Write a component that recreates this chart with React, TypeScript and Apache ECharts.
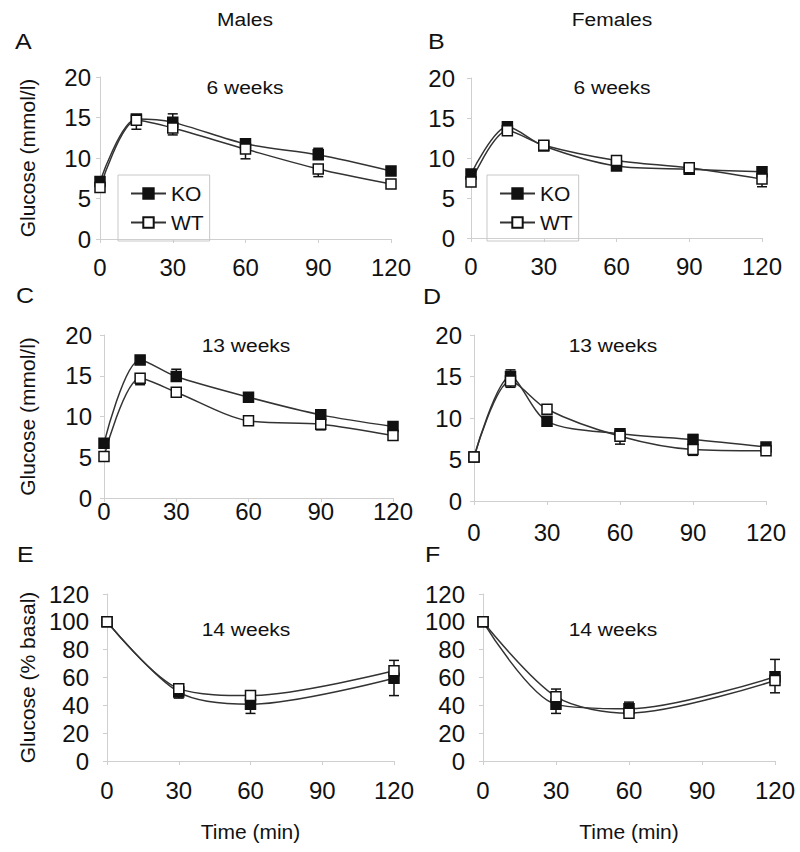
import React, { useEffect, useRef } from "react";
import * as echarts from "echarts";

const TIME_6 = [0, 15, 30, 60, 90, 120];
const TIME_4 = [0, 30, 60, 120];
const X_TICKS = [0, 30, 60, 90, 120];

// Panel A - Males 6 weeks (mmol/l)
const A_KO = [7.1, 14.8, 14.4, 11.75, 10.4, 8.4];
const A_KO_ERR = [0.3, 0.5, 1.05, 0.55, 0.8, 0.35];
const A_WT = [6.35, 14.65, 13.7, 11.1, 8.65, 6.8];
const A_WT_ERR = [-0.4, -1.1, -0.85, -1.2, -0.95, -0.3];
// Panel B - Females 6 weeks
const B_KO = [8.0, 13.9, 11.5, 9.0, 8.6, 8.27];
const B_KO_ERR = [0.3, 0.5, 0.5, 0.3, 0.3, 0.35];
const B_WT = [7.0, 13.4, 11.6, 9.7, 8.77, 7.36];
const B_WT_ERR = [-0.3, -0.5, -0.4, -0.3, -0.3, -0.95];
// Panel C - Males 13 weeks
const C_KO = [6.73, 16.94, 14.9, 12.37, 10.2, 8.78];
const C_KO_ERR = [0.4, 0.4, 0.9, 0.5, 0.5, 0.4];
const C_WT = [5.1, 14.7, 12.98, 9.47, 9.06, 7.67];
const C_WT_ERR = [-0.3, -0.8, -0.3, -0.3, -0.7, -0.3];
// Panel D - Females 13 weeks
const D_KO = [5.3, 15.0, 9.6, 8.1, 7.4, 6.5];
const D_KO_ERR = [0.2, 0.8, -0.3, 0.5, 0.6, 0.3];
const D_WT = [5.3, 14.45, 11.05, 7.8, 6.2, 6.05];
const D_WT_ERR = [-0.2, -0.75, 0.3, -0.95, -0.7, -0.35];
// Panel E - Males 14 weeks (% basal)
const E_KO = [100, 49.5, 40.8, 59.5];
const E_KO_ERR = [0, -4.3, -6.6, -12.5];
const E_WT = [100, 52, 47, 64.8];
const E_WT_ERR = [0, 1.5, 3.5, 7.5];
// Panel F - Females 14 weeks (% basal)
const F_KO = [100, 40.7, 37.5, 60.5];
const F_KO_ERR = [0, -6.5, 4.8, 12.5];
const F_WT = [100, 46.2, 34.4, 57.8];
const F_WT_ERR = [0, 5.5, -2, -8.8];

const SERIES_NAMES = ["KO", "WT"];
const COLUMN_TITLES = ["Males", "Females"];
const PANEL_LETTERS = ["A", "B", "C", "D", "E", "F"];
const PANEL_SUBTITLES = ["6 weeks", "6 weeks", "13 weeks", "13 weeks", "14 weeks", "14 weeks"];
const Y_NAME_MMOL = "Glucose (mmol/l)";
const Y_NAME_BASAL = "Glucose (% basal)";
const X_NAME = "Time (min)";

const FONT = "'Liberation Sans', Arial, Helvetica, sans-serif";

type Panel = {
  time: number[];
  ko: number[];
  koErr: number[];
  wt: number[];
  wtErr: number[];
  yMax: number;
  yInterval: number;
  grid: { left: number; top: number; width: number; height: number };
  yName: string;
  xName: string;
  yLabelMargin: number;
  xLabelMargin: number;
  yNameGap: number;
};

const PANELS: Panel[] = [
  { time: TIME_6, ko: A_KO, koErr: A_KO_ERR, wt: A_WT, wtErr: A_WT_ERR, yMax: 20, yInterval: 5,
    grid: { left: 100, top: 77, width: 291, height: 162 }, yName: Y_NAME_MMOL, xName: "",
    yLabelMargin: 9, xLabelMargin: 16, yNameGap: 62 },
  { time: TIME_6, ko: B_KO, koErr: B_KO_ERR, wt: B_WT, wtErr: B_WT_ERR, yMax: 20, yInterval: 5,
    grid: { left: 471, top: 78, width: 291, height: 160 }, yName: "", xName: "",
    yLabelMargin: 16, xLabelMargin: 16, yNameGap: 60 },
  { time: TIME_6, ko: C_KO, koErr: C_KO_ERR, wt: C_WT, wtErr: C_WT_ERR, yMax: 20, yInterval: 5,
    grid: { left: 104, top: 335, width: 289, height: 163 }, yName: Y_NAME_MMOL, xName: "",
    yLabelMargin: 12, xLabelMargin: 1, yNameGap: 66 },
  { time: TIME_6, ko: D_KO, koErr: D_KO_ERR, wt: D_WT, wtErr: D_WT_ERR, yMax: 20, yInterval: 5,
    grid: { left: 474, top: 335, width: 292, height: 166 }, yName: "", xName: "",
    yLabelMargin: 12, xLabelMargin: 19, yNameGap: 60 },
  { time: TIME_4, ko: E_KO, koErr: E_KO_ERR, wt: E_WT, wtErr: E_WT_ERR, yMax: 120, yInterval: 20,
    grid: { left: 107, top: 594, width: 287, height: 167 }, yName: Y_NAME_BASAL, xName: X_NAME,
    yLabelMargin: 18, xLabelMargin: 17, yNameGap: 69 },
  { time: TIME_4, ko: F_KO, koErr: F_KO_ERR, wt: F_WT, wtErr: F_WT_ERR, yMax: 120, yInterval: 20,
    grid: { left: 483, top: 594, width: 292, height: 167 }, yName: "", xName: X_NAME,
    yLabelMargin: 18, xLabelMargin: 17, yNameGap: 60 },
];

const LETTER_POS = [[15, 42], [428, 42], [16, 296], [423, 297], [17, 555], [425, 555]];
const SUBTITLE_POS = [[245, 88], [612, 88], [246, 346], [613, 346], [246, 630], [613, 630]];
const COLUMN_TITLE_POS = [[245, 20], [612, 20]];

function buildOption() {
  const axisColor = "#cfcfcf";
  const grid: any[] = [];
  const xAxis: any[] = [];
  const yAxis: any[] = [];
  const series: any[] = [];

  PANELS.forEach((p, i) => {
    grid.push({ ...p.grid, containLabel: false });
    xAxis.push({
      type: "value",
      gridIndex: i,
      min: 0,
      max: 120,
      interval: 30,
      axisLine: { show: true, onZero: false, lineStyle: { color: axisColor, width: 1 } },
      axisTick: { show: true, length: 4, lineStyle: { color: axisColor } },
      splitLine: { show: false },
      axisLabel: {
        color: "#111",
        fontSize: 24,
        fontFamily: FONT,
        margin: p.xLabelMargin,
        customValues: X_TICKS,
      },
      name: p.xName,
      nameLocation: "middle",
      nameGap: 60,
      nameTextStyle: { color: "#111", fontSize: 21, fontFamily: FONT },
    });
    yAxis.push({
      type: "value",
      gridIndex: i,
      min: 0,
      max: p.yMax,
      interval: p.yInterval,
      axisLine: { show: true, lineStyle: { color: axisColor, width: 1 } },
      axisTick: { show: true, length: 4, lineStyle: { color: axisColor } },
      splitLine: { show: false },
      axisLabel: { color: "#111", fontSize: 24, fontFamily: FONT, margin: p.yLabelMargin },
      name: p.yName,
      nameLocation: "middle",
      nameGap: p.yNameGap,
      nameTextStyle: { color: "#111", fontSize: 21, fontFamily: FONT },
    });

    const groups = [
      { name: SERIES_NAMES[0], vals: p.ko, errs: p.koErr, fill: "#111111" },
      { name: SERIES_NAMES[1], vals: p.wt, errs: p.wtErr, fill: "#ffffff" },
    ];
    groups.forEach((g) => {
      series.push({
        type: "custom",
        xAxisIndex: i,
        yAxisIndex: i,
        z: 1,
        silent: true,
        data: p.time.map((t, k) => [t, g.vals[k], g.errs[k]]),
        encode: { x: 0, y: 1 },
        renderItem: (params: any, api: any) => {
          const x = api.value(0);
          const y = api.value(1);
          const e = api.value(2);
          if (!e) return null;
          const p0 = api.coord([x, y]);
          const p1 = api.coord([x, y + e]);
          const style = { stroke: "#111", lineWidth: 1.5 };
          return {
            type: "group",
            children: [
              { type: "line", shape: { x1: p0[0], y1: p0[1], x2: p1[0], y2: p1[1] }, style },
              { type: "line", shape: { x1: p1[0] - 5, y1: p1[1], x2: p1[0] + 5, y2: p1[1] }, style },
            ],
          };
        },
      });
    });
    groups.forEach((g) => {
      series.push({
        type: "line",
        name: g.name,
        xAxisIndex: i,
        yAxisIndex: i,
        z: 3,
        smooth: 0.3,
        symbol: "rect",
        symbolSize: 10,
        showSymbol: true,
        data: p.time.map((t, k) => [t, g.vals[k]]),
        lineStyle: { color: "#333", width: 1.5 },
        itemStyle: { color: g.fill, borderColor: "#111", borderWidth: 1.5 },
        emphasis: { disabled: true },
      });
    });
  });

  const legendBase = {
    orient: "vertical",
    data: SERIES_NAMES,
    borderColor: "#c8c8c8",
    borderWidth: 1,
    borderRadius: 0,
    itemGap: 8,
    itemWidth: 35,
    itemHeight: 13,
    selectedMode: false,
    textStyle: { color: "#111", fontSize: 21, lineHeight: 16, fontFamily: FONT },
  };

  const graphic: any[] = [];
  const textEl = (x: number, y: number, text: string, size: number, align: string) => ({
    type: "text",
    x,
    y,
    scaleY: 0.86,
    silent: true,
    style: {
      text,
      x: 0,
      y: 0,
      fill: "#111",
      font: `${size}px 'Liberation Sans', Arial, sans-serif`,
      align,
      verticalAlign: "middle",
      textAlign: align,
      textVerticalAlign: "middle",
    },
  });
  COLUMN_TITLES.forEach((t, i) => graphic.push(textEl(COLUMN_TITLE_POS[i][0], COLUMN_TITLE_POS[i][1], t, 21, "center")));
  PANEL_LETTERS.forEach((t, i) => graphic.push(textEl(LETTER_POS[i][0], LETTER_POS[i][1], t, 25, "left")));
  PANEL_SUBTITLES.forEach((t, i) => graphic.push(textEl(SUBTITLE_POS[i][0], SUBTITLE_POS[i][1], t, 21, "center")));

  return {
    animation: false,
    backgroundColor: "#ffffff",
    grid,
    xAxis,
    yAxis,
    series,
    legend: [
      { ...legendBase, left: 118, top: 175, padding: [8, 6, 8, 12] },
      { ...legendBase, left: 487, top: 175, padding: [8, 6, 8, 12] },
    ],
    graphic,
  };
}

export default function App() {
  const ref = useRef<HTMLDivElement>(null);
  useEffect(() => {
    if (!ref.current) return;
    const chart = echarts.init(ref.current, null, { renderer: "svg" });
    chart.setOption(buildOption() as any);
    return () => chart.dispose();
  }, []);
  return (
    <div
      ref={ref}
      style={{ position: "absolute", left: 0, top: 0, width: 800, height: 852, background: "#fff" }}
    />
  );
}
